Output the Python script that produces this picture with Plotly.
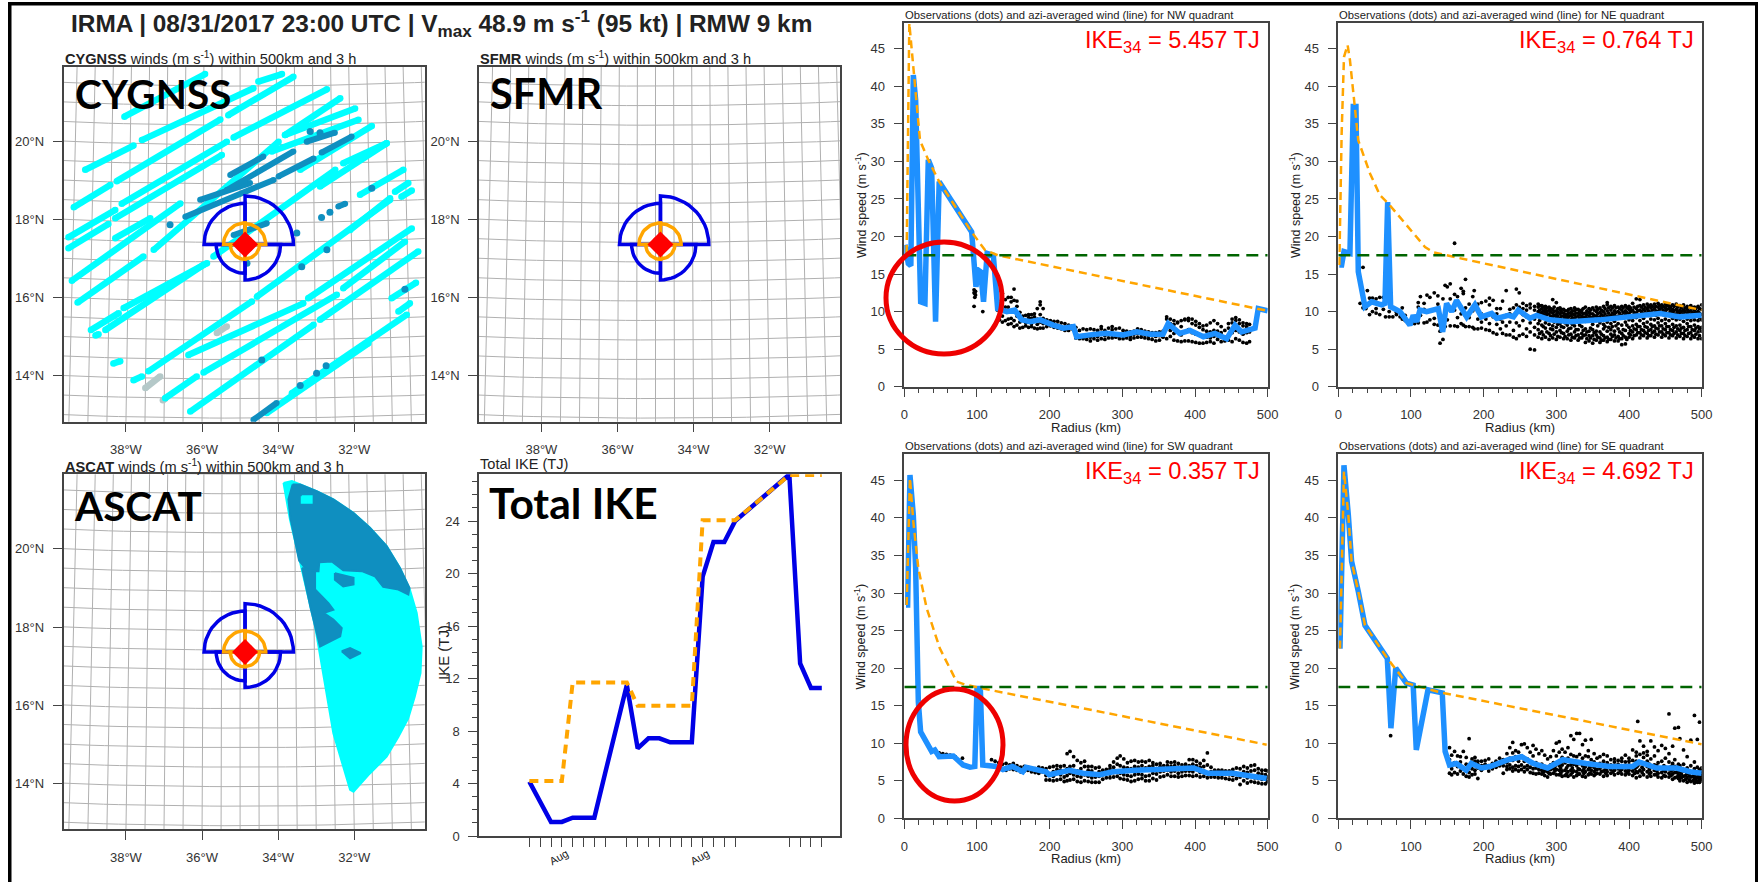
import math
import plotly.graph_objects as go

W, H = 1758, 882
FONT = "Liberation Sans"
TC = "#333333"

# ---------- total IKE ----------
IKE_TICKS = [0,1,2,3,4,5,6,7,9,10,11,12,13,14,15,16,17,18,19,24,25,26,27]
IKE_BLUE_T = [0,2,3,4,5,6,7,9,10,11,12,13,14,15,16,17,18,19,24,25,26,27]
IKE_BLUE_V = [4.14,1.07,1.07,1.4,1.4,1.4,4.8,11.5,6.68,7.44,7.44,7.14,7.14,7.14,19.76,22.4,22.4,24.0,27.55,13.15,11.28,11.28]
IKE_ORNG_T = [0,3,4,9,10,15,16,19,24,27]
IKE_ORNG_V = [4.2,4.2,11.7,11.7,9.93,9.93,24.05,24.05,27.5,27.5]

# ---------- quadrant radii (deg) NE, NW, SW, SE and storm centre ----------
CENTER = (-34.87, 17.36)
R34 = [1.24, 1.05, 0.74, 0.91]
R50 = [0.53, 0.55, 0.38, 0.37]

# ---------- CYGNSS tracks: lon0, lat0, lon1, lat1 ----------
CYG_CYAN = [
(-38.04,20.63,-35.92,21.72),(-34.52,21.53,-33.90,21.72),(-37.58,20.03,-34.65,21.36),(-35.31,20.67,-33.60,21.65),
(-35.17,20.10,-32.72,21.33),(-33.82,20.16,-32.37,21.10),(-39.07,19.27,-37.80,19.89),(-38.24,18.98,-35.52,20.56),
(-39.37,18.31,-38.41,18.88),(-38.11,18.40,-35.35,19.99),(-39.51,17.54,-38.28,18.24),(-38.28,18.03,-35.48,19.65),
(-39.51,17.26,-38.46,17.88),(-38.28,17.52,-37.36,18.03),(-39.42,16.43,-36.57,18.41),(-37.27,17.22,-33.99,19.99),
(-39.27,15.87,-37.54,17.05),(-38.92,15.17,-38.19,15.60),(-38.54,15.17,-35.96,16.84),(-38.06,15.73,-35.87,16.88),
(-35.70,17.05,-32.50,19.27),(-32.29,19.44,-31.15,19.95),(-34.17,19.74,-31.89,20.55),(-33.82,20.16,-31.98,20.84),
(-33.42,19.27,-31.54,20.39),(-32.90,18.84,-31.15,19.95),(-37.41,14.11,-34.69,15.90),(-36.36,14.53,-33.34,15.85),
(-34.56,16.02,-31.06,18.50),(-35.96,14.08,-32.46,16.07),(-33.21,15.98,-30.49,17.77),(-32.29,16.24,-30.67,17.43),
(-32.90,15.43,-30.32,17.18),(-38.33,14.31,-38.15,14.37),(-37.80,13.88,-37.58,13.98),(-36.97,13.42,-36.14,13.98),
(-36.31,13.08,-33.07,15.30),(-34.30,13.04,-31.63,14.83),(-33.64,13.55,-30.62,15.56),(-31.02,15.98,-30.38,16.38),
(-30.84,15.64,-30.54,15.85),(-31.85,18.63,-30.71,19.27),(-30.93,18.71,-30.58,18.93),(-30.76,18.58,-30.49,18.74),
(-32.11,17.73,-31.06,18.54),(-38.80,15.03,-38.72,15.06),
]
CYG_GRAY = [(-37.49,13.68,-37.10,13.98),(-35.61,15.09,-35.35,15.26),(-37.03,13.37,-36.98,13.40)]
CYG_DARK = [
(-36.44,18.07,-34.12,19.01),(-36.05,18.50,-34.74,18.93),(-35.35,18.75,-33.60,19.74),(-33.99,19.10,-33.07,19.56),
(-32.86,19.71,-32.07,20.12),(-33.25,19.99,-32.51,20.22),(-35.26,19.14,-34.39,19.61),(-35.17,17.60,-34.30,17.90),
(-32.42,18.33,-32.24,18.40),(-34.65,12.87,-34.04,13.30),
]
CYG_DOT_LON = [-33.16,-32.90,-36.84,-31.54,-32.86,-32.64,-33.51,-34.82,-33.38,-32.72,-30.67,-34.43,-33.42,-32.99,-32.74]
CYG_DOT_LAT = [20.25,20.22,17.86,18.80,18.05,18.18,17.65,16.88,16.79,17.22,16.21,14.40,13.75,14.06,14.25]

# ---------- ASCAT swath outlines ----------
ASC_LON = [-33.86,-33.64,-33.42,-32.99,-32.55,-32.02,-31.59,-31.15,-30.80,-30.54,-30.36,-30.23,-30.26,-30.41,-30.58,-30.84,-31.15,-31.59,-32.02,-32.11,-32.55,-32.90,-33.03,-33.42,-33.69]
ASC_LAT = [21.69,21.74,21.65,21.48,21.27,20.92,20.54,20.07,19.51,18.96,18.36,17.50,16.82,16.22,15.67,15.19,14.68,14.25,13.78,13.83,15.28,17.25,18.02,19.64,20.75]
ASC_D1_LON = [-33.62,-33.42,-32.99,-32.55,-32.02,-31.59,-31.15,-30.80,-30.55,-30.58,-30.84,-31.24,-31.46,-31.80,-32.29,-32.59,-32.92,-32.94,-33.16,-33.29,-33.45,-33.55,-33.68,-33.73]
ASC_D1_LAT = [21.65,21.65,21.48,21.27,20.92,20.54,20.07,19.51,19.00,18.83,18.96,19.03,19.30,19.43,19.45,19.68,19.66,19.43,19.43,19.51,19.70,20.20,20.80,21.27]
ASC_D2_LON = [-33.37,-33.03,-33.03,-32.68,-32.55,-32.81,-32.55,-32.33,-32.37,-32.64,-32.90,-33.03,-33.15]
ASC_D2_LAT = [19.51,19.43,18.96,18.61,18.44,18.36,18.19,17.97,17.76,17.63,17.50,18.02,18.50]
ASC_D3_LON = [-32.51,-32.02,-32.02,-32.29,-32.51]
ASC_D3_LAT = [19.38,19.26,19.09,19.04,19.21]
ASC_D4_LON = [-32.33,-32.11,-31.83,-32.11]
ASC_D4_LAT = [17.38,17.46,17.33,17.20]
ASC_C1_LON = [-33.38,-33.12,-33.12,-33.38]
ASC_C1_LAT = [21.35,21.35,21.18,21.18]

# ---------- quadrant profiles ----------
NW_R = [1,5.5,9,12.4,15.6,22.5,28.4,33,37.6,43,48,92.7,98.6,102,105,109,114,122.5,128.4,141,152,161.5,173,187,205,219,232.6,237,255.5,278.4,301,320,338,356,363,379,393,411.5,427.5,443.6,455,464,482.6,487,500]
NW_V = [18.9,16.4,16.1,41.5,38.2,11.3,11.1,30.2,29.1,8.65,27.3,20.6,13.3,15.5,15.3,11.3,17.75,17.5,10.4,10,10.2,8.9,8.65,8.9,8.2,7.8,8,6.65,6.9,7.1,6.9,7.3,7,7,8.4,7.1,7.5,6.65,7.1,6.4,8.2,7.3,7.8,10.4,10.1]
NW_OR = [3.2,4.6,6.9,12.4,21.6,33,48,92.7,111,128.4,500]
NW_OV = [17.8,33.7,48.4,42.6,32.8,30.2,27.3,20.6,18.2,17.5,10.1]
NE_R = [1.4,4.6,7.8,16,20.6,24.3,27.5,36.7,45.9,59.6,64.2,67.9,72,84.9,98.6,103,107.8,112.4,121.6,137.6,143.6,149,156,162.8,176.6,188,197,211,218,234,241,247.7,263.8,273,291,319,360,406,442.7,470,500]
NE_V = [16.2,16.2,18,17.75,37.3,37.3,15.3,10.65,11.3,10.9,11.1,24.6,10.65,10,8.2,9.5,8.65,10.2,10,10.4,7.3,11.1,10,11.5,9.3,10.9,9.3,9.75,9.1,9.5,9.3,10.2,9.1,9.5,8.9,8.65,8.9,9.3,9.75,9.3,9.5]
NE_OR = [1.4,4.6,7.8,12.8,16,23,27.5,43.6,57.3,68.8,94,119.3,130.7,162.8,500]
NE_OV = [16.2,33.7,43.9,45.5,43.5,37.3,32.8,28.4,25.5,24.4,21.5,18.6,17.9,17.2,10.2]
SW_R = [2.3,4.6,7.8,12.4,15.6,19.3,22.5,28.4,37.6,42,48,67.4,81,90.4,97,100,104.6,108,126.4,135.6,149,163,167.5,195,199.5,227,246,269,287,319,398,418,452,498.6]
SW_V = [28.4,28.4,45.7,40.4,33.3,15.5,11.5,10.4,8.9,9.1,8.2,8.3,7.1,6.8,6.9,17.3,17.3,7.1,6.9,6.5,6.9,6.2,6.8,6.2,5.8,6.4,6,5.8,6.2,6.4,6.7,6,6,5.3]
SW_OR = [3.2,7.8,12.4,19.3,30.7,49,72,83.5,101.8,498.6]
SW_OV = [28.4,45.3,39.5,33.3,28,22.6,18.2,17.8,17.4,9.8]
SE_R = [2.3,7.8,13.8,18.3,27.5,36.7,67.4,72.4,79,93.6,103,107.3,123.4,143,147,153,162.4,176.1,183,197,208.7,233.9,252.3,268.3,288,309,341,373,405,414,438,465.6,484,500]
SE_V = [22.6,47,40.4,34.2,30.2,25.7,21.3,12,20,18,17.75,9.1,17.1,16.7,8.9,7.1,7.3,6.4,7.3,6.7,6.9,7.8,8.2,7.3,6.7,7.8,7.3,6.9,6.9,7.5,6.7,6.7,6.2,6]
SE_OR = [2.3,7.8,13.8,18.3,27.5,36.7,67.4,94,123.9,143.6,500]
SE_OV = [22.6,46.2,40.4,34.2,30.2,25.7,21.3,18,17.2,16.7,9.85]

# ---------- observations: radius, speeds ----------
NW_DOTS = [(96,[10.7,12.9,12.5]),(97,[11.9,12.4]),(98,[12.7,12.2]),(108,[10.0]),(128,[10.2,11.5]),(131,[8.9,9.5,11]),(135,[8.6,9.4,11.7,12.4]),(139,[8.8,10.6,11.6]),(143,[8.3,9,10.6,11.9]),(147,[8.4,9.1,11.3,11.9]),(151,[8,8.8,11.5,13]),(155,[8.2,9.4,10.7,11.4]),(159,[7.8,8.6,9.9]),(163,[7.9,8.9,9.4]),(167,[8.1,8.5,9.5]),(171,[7.9,8.6,9.2,9.6]),(175,[8,8.4,9.1,9.6]),(179,[7.8,8.7,9.3,9.7]),(183,[7.7,8.3,9,10.4]),(187,[7.8,8.6,9.6,10.9,11.3]),(191,[7.8,8.4,9.1,10.4]),(196,[8,8.5,8.9]),(201,[8.1,8.4,8.8]),(206,[7.9,8.3,8.7]),(211,[7.8,8.2,8.7]),(216,[7.7,8,8.5]),(221,[7.5,7.9,8.4]),(226,[7.5,8,8.2]),(231,[7.7,8.1]),(236,[6.5,7.3,7.9]),(241,[6.4,6.7,7.5]),(246,[6.4,6.8,7.7]),(251,[6.3,6.7,7.6]),(256,[6.1,6.6,7.7]),(261,[6.4,6.8,7.6]),(266,[6.2,6.7,7.5]),(271,[6.4,7,7.7,8]),(276,[6.3,6.8,7.5]),(281,[6.5,7,7.8]),(286,[6.5,6.9,7.6,8]),(291,[6.6,7,7.7]),(296,[6.4,6.9,7.8]),(301,[6.4,6.8,7.5]),(306,[6.5,6.9,7.4]),(311,[6.3,6.7,7.3]),(316,[6.5,7,7.4]),(321,[6.6,7.1,7.7]),(326,[6.6,7,7.6]),(331,[6.5,6.9,7.4]),(336,[6.4,6.8,7.3]),(341,[6.3,6.8,7.2]),(346,[6.1,6.7,7.2]),(351,[6.2,6.8,7.3]),(356,[6.6,7,7.4]),(361,[6.4,7.8,9,9.3]),(366,[6.7,7.5,8.4,9]),(371,[6.2,7.1,8.3,8.8]),(376,[6.1,7.4,8.5,8.6]),(381,[6,6.9,8,8.8]),(386,[6.1,7.3,8.9,9]),(391,[6.1,7.6,8.8,9.1]),(396,[6,7.2,8.4,9]),(401,[5.9,7,8.2,8.7]),(406,[5.8,6.9,7.9,8.4]),(411,[5.8,6.7,7.6,8.1]),(416,[5.9,6.6,7.4,8.2]),(421,[6,6.5,7.3,8.5]),(426,[5.8,6.7,7.5,8.8]),(431,[6.3,6.8,7.4,8.4]),(436,[6,6.6,7.2,8]),(441,[6.1,6.5,7.5]),(446,[6.2,6.7,7.8,8.4]),(451,[6,7.2,8.5,9]),(456,[6.4,7.5,8.8,9.2]),(461,[6.2,7.3,8.4,8.9]),(466,[5.9,7,8.1,8.5]),(471,[5.8,7.2,8,8.4]),(475,[6,7.3,8.3])]
NE_DOTS = [(30,[11.1]),(34,[10.5,15.9]),(38,[10.4]),(40,[12.8,11]),(43,[9.6,11.8]),(47,[10,11.8]),(52,[9.8,11.7,10.4]),(57,[9.6,11.9]),(62,[10.3,11.9]),(65,[9.3]),(70,[9.3,10]),(75,[9.3]),(80,[9.6,9.9]),(85,[9.9,9.3]),(88,[10.5,9]),(92,[9.5,8.8]),(97,[8.4]),(105,[8.4,9.3]),(110,[8.5,10.6,11.2]),(113,[12,9.5]),(118,[8.5,11.1,10.3]),(122,[8.6,12.2,10]),(126,[8.9,11.9]),(132,[8.3,12.5,9.1]),(137,[8.2,12.1,11]),(140,[5.8,8.2,7.4]),(144,[6.3,8.1,11.7]),(147,[13.5,8]),(150,[13.3,8.9,10.6]),(154,[13.7,8.1,11.7]),(160,[19.1,8.1,10.2,12.3]),(164,[8,12,11.3,9.2]),(169,[8.4,13.1,9.7,10.6]),(172,[8.2,12.7,12.4]),(175,[14.3,8,10.5,9.4]),(180,[8,11,9.2]),(185,[7.9,12,10.1]),(187,[12.8,7.7,10.7]),(192,[7.7,9,11]),(197,[7.8,11.2,9.7,8.6]),(203,[7.6,11.4,9]),(208,[7.5,11.8,8.4,10.9]),(213,[7.2,11.5,9.3]),(218,[7,8.3,10.4,9.7]),(223,[7.7,9,10.4]),(226,[7.1,11.4,8.6]),(231,[6.9,12.8,8.1,9.5]),(236,[6.9,9.7,8.6,10.3]),(241,[6.6,7.5,9.3,10.5]),(245,[6.4,13,8.5,10.9,9.8]),(249,[6.8,12.5,8.1,10.6,10]),(254,[7,8.8,11.1,10.4,9.6]),(259,[6.7,7.7,9.3,10.8,10.2]),(264,[5,7.3,8.5,10.5,11]),(270,[4.9,6.9,7.9,9,10.7,10.2]),
(275,[6.6,7.6,8.4,9.5,10,10.6,11]),(280,[6.4,7.3,8.2,9.2,9.9,10.4,10.8]),(285,[6.6,7.8,8.5,9.4,9.9,10.3,10.7]),(290,[6.3,7.1,8.3,9.1,9.7,10.2,10.6]),(295,[6.5,7.6,8.1,9.3,9.8,10.3,11.6]),(300,[6.3,7.3,7.9,9.2,9.6,10.1,11.2]),(305,[6.6,7.5,8.4,9.1,9.7,10.2,10.5]),(310,[6.4,7.1,7.9,8.9,9.4,9.8,10.3]),(315,[6.4,7.4,8.2,9.2,9.6,10.1]),(320,[6.2,7,7.8,8.9,9.5,9.9,10.4]),(325,[6.5,7.3,8.1,9.1,9.6,10.1,10.5]),(330,[6.2,6.9,7.6,8.8,9.4,9.8,10.3]),(335,[6.5,7.1,8,9,9.4,9.9,10.2]),(340,[5.9,6.9,7.7,8.7,9.3,9.8,10.6]),(345,[6.1,6.8,7.4,8.9,9.4,9.9,10.4]),(350,[5.8,6.8,7.6,8.3,9.2,9.7,10.5]),(355,[6.2,6.9,7.4,8.8,9.4,10,10.6]),(360,[5.9,6.5,7.3,8.5,9.3,9.9,10.5]),(365,[6.2,6.8,7.7,8.3,9.4,10,10.7]),(370,[6,6.6,7.4,8.6,9.4,10.1,10.9,11.2]),(375,[6.3,7,7.6,8.4,9.5,10.2,10.7]),(380,[6.1,6.9,7.4,8.7,9.6,10.1,10.8]),(385,[6.1,6.7,7.7,8.4,9.4,10,10.6]),(390,[5.6,6.4,7.1,8.2,9.5,10.2,10.7]),(395,[5.7,6.6,7.5,8.6,9.6,10.1,10.8]),(400,[6.6,7.1,7.9,8.9,9.7,10.3,10.7]),(405,[6.4,7.3,8.1,8.8,9.5,10.2,11.1]),(410,[6.9,7.6,8.3,9.2,9.8,10.4,11.7]),(415,[6.5,7.2,8,8.8,9.6,10.2,10.8,11.6]),(420,[6.8,7.5,8.4,9.1,9.7,10.3,10.9]),(425,[6.5,7.1,7.9,8.6,9.8,10.4,11]),(430,[6.8,7.6,8.3,9,9.9,10.5,10.9]),(435,[6.6,7.4,8.1,8.9,9.8,10.4,11]),(440,[6.9,7.7,8.5,9.1,10,10.6,11.1]),(445,[6.6,7.3,8.1,8.8,9.9,10.5,10.9]),(450,[6.8,7.6,8.4,9,10,10.5,11]),(455,[6.5,7.2,8,8.8,9.8,10.4,10.8]),(460,[6.8,7.5,8.3,9.1,9.9,10.3,10.9]),(465,[6.5,7.3,8.1,8.9,9.7,10.3,11]),(470,[6.7,7.5,8.2,9,9.8,10.2,10.8]),(475,[6.4,7.1,7.9,8.7,9.7,10.2,10.9]),(480,[6.7,7.6,8.4,9,9.8,10.3,10.7]),(485,[6.4,7.2,8,8.8,9.6,10.1,10.8]),(490,[6.6,7.5,8.2,8.9,9.7,10.2,10.6]),(495,[6.4,7.3,8,8.8,9.5,10,10.7]),(500,[6.4,7.4,7.9,8.9,9.6,10.3,10.9])]
NE_EXTRA = [(r, s) for r, s in [(277,[7.1,8.8,9.7,10.2,10.8]),(282,[6.9,8,9.6,10.1,10.6]),(287,[7.3,8.9,9.6,10,10.5]),(292,[6.8,7.7,9.4,10,10.4]),(297,[7,8.6,9.5,10,10.6]),(302,[6.7,8.3,9.4,9.9,10.4]),(307,[7.2,8,9.4,9.9,10.3]),(312,[6.7,8.5,9.2,9.6,10.1]),(317,[6.9,7.7,9.3,9.8,10.3]),(322,[6.6,8.3,9.2,9.7,10.1]),(327,[6.8,7.6,9.3,9.8,10.3]),(332,[6.5,8.2,9.1,9.6,10.1]),(337,[6.8,7.5,9.2,9.7,10.4]),(342,[6.4,7.3,9.1,9.6,10.1]),(347,[6.5,7.8,9.2,9.7,10.2]),(352,[6.3,7.2,9,9.5,10.2]),(357,[6.6,8.1,9.2,9.7,10.3]),(362,[6.2,7,9,9.6,10.2]),(367,[6.5,8,9.2,9.7,10.4]),(372,[6.3,7.9,9.2,9.8,10.5]),(377,[6.7,8,9.3,9.8,10.5]),(382,[6.5,8.1,9.3,9.9,10.5]),(387,[6.4,7.3,9.2,9.8,10.4]),(392,[6.8,7.6,9.3,9.9,10.5]),(397,[6.3,8.2,9.3,9.9,10.5]),(402,[6.9,7.5,9.4,10,10.5]),(407,[6.8,7.7,9.3,9.9,10.6]),(412,[7.2,8,9.5,10.1,10.7]),(417,[6.9,7.6,9.4,10,10.6]),(422,[7.2,8,9.5,10.1,10.6]),(427,[6.8,7.5,9.5,10.1,10.7]),(432,[7.2,8,9.6,10.2,10.7]),(437,[7,7.8,9.5,10.1,10.7]),(442,[7.3,8.1,9.7,10.3,10.8]),(447,[7,7.7,9.6,10.2,10.7]),(452,[7.2,8,9.7,10.3,10.8]),(457,[6.9,7.6,9.5,10.1,10.6]),(462,[7.1,7.9,9.6,10.1,10.7]),(467,[6.9,7.7,9.5,10,10.6]),(472,[7.1,7.8,9.5,10,10.5]),(477,[6.8,7.5,9.4,10,10.5]),(482,[7.1,8,9.5,10,10.5]),(487,[6.8,7.6,9.3,9.9,10.5]),(492,[7,7.8,9.4,9.9,10.4]),(497,[6.8,7.7,9.2,9.8,10.4])]]
SW_DOTS = [(48,[8.7]),(53,[8.6]),(58,[8.5]),(63,[8.4]),(70,[8.2]),(80,[8]),(120,[7.8]),(125,[7.6,7]),(130,[7.4,6.8]),(135,[7.2,6.6]),(140,[7.3,6.4]),(145,[7.1,6.6]),(150,[7.3,6.5]),(155,[7,6.4]),(160,[6.8,6.2]),(165,[6.9,6.3]),(170,[6.8,6.4]),(175,[6.7,6.2]),(180,[6.6,6.1]),(185,[6.8,6]),(190,[6.7,6.2]),(195,[6.6,5.1,5.7]),(200,[6.8,5.1,5.9]),(205,[6.9,5,5.6,6.2]),(210,[7,5.1,6,6.5]),(215,[6.9,5.2,5.8,6.4]),(220,[7,4.9,5.5,6.3]),(224,[8.6,5,5.7,6.6]),(228,[8.9,5.1,6,6.9]),(233,[8.2,5.2,5.8,7]),(238,[7.7,4.9,5.6,6.3]),(243,[7.4,4.8,5.5,6.6]),(248,[7.6,5,5.8,6.9]),(253,[6.9,4.9,5.6,6.4]),(258,[6.9,4.8,5.4,6.3]),(263,[6.7,4.8,5.5]),(268,[6.8,4.8,5.6,6.2]),(273,[6.4,5.2,5.8]),(278,[6.5,5.4,6]),(283,[7,5.4,5.9,6.6]),(288,[7.5,5.5,6.1,6.8]),(293,[8,5.6,6.2,7.2]),(297,[8.3,5.3,6,7]),(302,[7.9,5.2,5.8,6.8]),(307,[7.4,5.1,5.7,6.7]),(312,[7.6,4.9,5.6,6.6]),(317,[7.7,5,5.8,6.9]),(322,[7.5,5.2,5.9,6.8]),(327,[7.6,5.3,5.8,7]),(332,[7.5,5,5.6,6.7]),(337,[7.7,5,5.7,6.9]),(342,[7.4,5.3,6,7]),(347,[7.2,5.1,5.9,6.6]),(352,[7.3,5.5,6.2,6.9]),(357,[7,5.6,6.3]),(362,[7.5,5.8,6.4,7]),(367,[7.4,5.6,6.2,6.9]),(372,[7.5,5.6,6.3,7]),(377,[7.3,5.5,6,6.8]),(382,[7.1,5.6,6.2,6.7]),(387,[7.2,5.7,6.3,6.9]),(392,[7.8,5.7,6.3,7]),(397,[7.8,5.6,6.2,7.2]),(402,[7.6,5.7,6.5,7]),(407,[7.3,5.5,6.1,6.8]),(412,[7.7,5.6,6.3,6.9]),(417,[7.1,8.7,5.4,6]),(422,[6.8,5.5,6.2]),(427,[6.4,5.5,6]),(432,[6.4,5.4,5.9]),(437,[6.4,5.4,5.8]),(442,[6.3,5.3,5.9]),(447,[6.3,5.2,5.8]),(452,[6.5,5.1,5.7]),(457,[6.7,5.3,5.9]),(462,[6.6,4.5,5.5]),(467,[6.9,5,5.7,6.2]),(472,[6.7,4.7,5.4,6.1]),(477,[7,4.9,5.6,6.3]),(482,[7.1,4.8,5.4,6.4]),(487,[6.6,4.7,5.3,6]),(492,[6.4,4.6,5.2,5.9]),(497,[6.4,4.6,5.2,5.8]),(500,[6.3,4.9,5.5])]
SE_DOTS = [(72,[11]),(153,[9.4,6,7.8]),(156,[8.4,5.8,6.6,7.2]),(160,[8.9,6.1,7.4]),(164,[8.3,5.9,6.9]),(168,[8.2,6.3,7.5]),(172,[8.9,5.9,6.6]),(176,[8.1,5.6,6.3,7.2]),(180,[10.6,5.5,6.1,7]),(184,[7.9,5.8,6.6,7.4]),(188,[8.1,5.9,6.4,7.6]),(192,[7.6,5.3,6.7,7.2]),(197,[7.6,6.4,7]),(202,[7.7,6.8,7.2]),(207,[7.9,6.3,7]),(212,[7.3,6.6,7.1]),(217,[7.6,6.8,7.3]),(222,[8,7,7.4]),(227,[7.8,6,7]),(232,[8.6,6.5,6.9,7.4]),(236,[9.4,6.6,7.1,8]),(240,[10.1,6.3,6.8,7.7,8.7]),(244,[9,6.5,7,8.2]),(248,[8.8,6.3,6.9,7.6]),(252,[9.8,6.5,7.1,8.3]),(256,[9.9,6.2,6.8,7.6]),(260,[9.4,6.5,7,7.9]),(264,[8.8,6.1,6.8,7.5]),(268,[9.7,6,6.6,7.2,8.3]),(272,[9.2,5.9,6.7,7.4]),(276,[8.6,6,6.5,7]),(280,[9,5.9,6.4,7.2]),(284,[8.4,5.7,6.3,6.9]),(288,[7.9,5.5,6.2,6.8]),(292,[8.2,5.9,6.5,7.1]),(296,[9,6,6.6,7.4]),(300,[10,5.8,6.5,7.2,8.3]),(304,[10.2,5.8,6.4,7,8.8]),(308,[9.2,5.6,6.3,7.1,8.1]),(312,[8.8,5.7,6.4,7.4]),(316,[9.4,5.6,6.2,7,8]),(320,[11,5.8,6.4,7.1,8.5]),(324,[10.5,5.5,6.3,7.2,8.3]),(328,[11.3,5.7,6.2,7,8.2]),(332,[11.3,5.9,6.5,7.3,8.5]),(336,[9.8,5.6,6.3,7,8]),(340,[10.4,5.5,6.2,6.9,8.3]),(344,[9,5.8,6.5,7.2,8.2]),(348,[10.5,5.9,6.4,7,7.8]),(352,[8.6,5.7,6.2,6.8,7.5]),(356,[8,6,6.5,7.1]),(360,[8.2,5.9,6.6,7.3]),(365,[8.5,5.6,6.3,6.9,7.6]),(370,[8.3,5.7,6.2,6.7,7.4]),(375,[7.8,6,6.5,7.1]),(380,[7.9,5.8,6.4,7,7.5]),(385,[7.7,6,6.6,7.2]),(390,[8,5.9,6.5,7,7.6]),(395,[8.4,5.8,6.3,6.9,7.5]),(400,[8,5.9,6.4,7.1,7.6]),(405,[9.1,5.7,6.3,6.9,7.7]),(410,[8.8,5.4,6.2,6.8,7.6,8.3]),(412,[12.9,6.1,7]),(415,[10.3,5.6,6.4,7.3,8.5]),(420,[9.6,5.8,6.5,7.2,8.1,8.7]),(425,[8.9,5.5,6.2,6.9,7.6,8.4]),(430,[10.3,5.6,6.1,6.8,7.9]),(435,[9.5,5.8,6.4,7.1,8.3]),(440,[9,5.5,6,6.6,7.4]),(445,[9.7,5.4,6.1,6.7,7.6]),(450,[9.3,5.6,6.2,6.8,8]),(455,[13.9,5.5,6,6.6,7.5,8.6]),(460,[9.6,5.2,5.9,6.5,7.3]),(463,[12,5.4,6.1,6.9,7.8]),(468,[12.1,5.3,5.8,6.4,7.2]),(470,[10.6,5,5.6,6.2,7]),(475,[9.1,5,5.6,6.3,7.2]),(480,[8.2,4.8,5.4,6,6.7]),(485,[10.4,4.9,5.5,6.2,7]),(490,[13.7,4.7,5.3,5.9,6.6,7.5]),(494,[10.5,4.8,5.4,6,6.8]),(497,[12.8,4.8,5.3,5.8,6.5]),(500,[5,5.5,6,6.7])]
SE_EXTRA = [(282,[6.1,6.7]),(290,[6,6.6]),(298,[6.3,6.9]),(306,[6,6.7]),(314,[5.9,6.7]),(322,[6.1,6.7]),(330,[5.9,6.6]),(338,[6,6.6]),(346,[6,6.8]),(354,[5.9,6.5]),(362,[6.2,6.9]),(368,[6,6.5]),(378,[6.2,6.8]),(388,[6.3,6.8]),(398,[6.1,6.7]),(408,[6,6.6,7.2]),(418,[6.1,6.8,7.4]),(428,[5.9,6.5,7.2]),(438,[5.8,6.3,7]),(448,[5.7,6.4,7]),(458,[5.7,6.3,6.9]),(466,[5.5,6.1,6.7]),(472,[5.4,5.9,6.6]),(478,[5.2,5.7,6.4]),(483,[5.1,5.7,6.3]),(488,[5,5.6,6.2]),(492,[5,5.5,6.1]),(496,[5,5.6,6.2]),(499,[5.2,5.7,6.3])]

TITLE_BITS = ["NW", "NE", "SW", "SE"]
IKE34 = ["5.457", "0.764", "0.357", "4.692"]
GALE = 17.5

# panel rectangles (left, right, top, bottom)
P = {"cyg": (63.5,424.7,66.7,421.7), "sfmr": (479,840,66.7,421.7), "asc": (63.5,424.7,474.3,829.3),
     "ike": (479,840,474.3,836), "nw": (904.3,1267.7,22.7,386.7), "ne": (1338.3,1701.7,22.7,386.7),
     "sw": (904.3,1267.7,454.3,818.3), "se": (1338.3,1701.7,454.3,818.3)}
AX = {k: i+1 for i, k in enumerate(P)}

fig = go.Figure()
layout = {}
LON_RANGE = [-39.64, -30.15]
LAT_RANGE = [12.82, 21.91]

def refs(k):
    return dict(xaxis="x%d" % AX[k], yaxis="y%d" % AX[k])

def axes(k, xa, ya):
    l, r, t, b = P[k]
    n = AX[k]
    base = dict(showgrid=False, zeroline=False, showline=True, mirror=True, linecolor="#444444", linewidth=1.5,
                ticks="outside", ticklen=9, tickcolor="#444444", tickwidth=1.2, ticklabelstandoff=6,
                tickfont=dict(family=FONT, size=13, color=TC))
    layout["xaxis%d" % n] = {**base, "domain": [l/W, r/W], "anchor": "y%d" % n, **xa}
    layout["yaxis%d" % n] = {**base, "domain": [1-b/H, 1-t/H], "anchor": "x%d" % n, **ya}

MAPX = dict(range=LON_RANGE, tickvals=[-38,-36,-34,-32], ticktext=["38°W","36°W","34°W","32°W"])
MAPY = dict(range=LAT_RANGE, tickvals=[14,16,18,20], ticktext=["14°N","16°N","18°N","20°N"])

def graticule():
    xs, ys = [], []
    lon0, k, c = -35.0, 0.0053, 0.0039
    def proj(lon, lat):
        d = lon - lon0
        return lon0 + d*(1 - k*(lat-12.82)), lat + c*(d*d - 22.6)
    for i in range(0, 21):
        lat = 12.0 + i*0.5
        for j in range(0, 31):
            x, y = proj(-41 + j*0.4, lat)
            xs.append(x); ys.append(y)
        xs.append(None); ys.append(None)
    for i in range(0, 23):
        lon = -40.5 + i*0.5
        for j in range(0, 13):
            x, y = proj(lon, 12 + j)
            xs.append(x); ys.append(y)
        xs.append(None); ys.append(None)
    return xs, ys

def segs(lst):
    xs, ys = [], []
    for a, b, c, d in lst:
        xs += [a, c, None]; ys += [b, d, None]
    return xs, ys

def line(k, x, y, color, width, dash=None, mode="lines", msize=0):
    tr = go.Scatter(x=x, y=y, mode=mode, line=dict(color=color, width=width, dash=dash),
                    hoverinfo="skip", showlegend=False, **refs(k))
    if msize:
        tr.marker = dict(color=color, size=msize)
    fig.add_trace(tr)

def arc_quads(radii):
    lon0, lat0 = CENTER
    xs, ys = [], []
    starts = [0, 90, 180, 270]
    for rad, s in zip(radii, starts):
        xs.append(lon0); ys.append(lat0)
        for d in range(0, 91, 6):
            a = math.radians(s + d)
            xs.append(lon0 + rad*1.025*math.cos(a)); ys.append(lat0 + rad*math.sin(a))
        xs.append(lon0); ys.append(lat0)
        xs.append(None); ys.append(None)
    return xs, ys

def storm(k):
    x, y = arc_quads(R34); line(k, x, y, "#0000e6", 3.5)
    x, y = arc_quads(R50); line(k, x, y, "#ffa500", 3.5)
    for sym, sz in (("circle", 18), ("diamond", 20)):
        fig.add_trace(go.Scatter(x=[CENTER[0]], y=[CENTER[1]], mode="markers", hoverinfo="skip", showlegend=False,
                                 marker=dict(symbol=sym, size=sz, color="#ff0000"), **refs(k)))

gx, gy = graticule()
for k in ("cyg", "sfmr", "asc"):
    axes(k, MAPX, MAPY)
    line(k, gx, gy, "#b0b0b0", 1)

# CYGNSS
x, y = segs(CYG_GRAY); line("cyg", x, y, "#b4c8c8", 6.5, mode="lines+markers", msize=6.5)
x, y = segs(CYG_CYAN); line("cyg", x, y, "#00ffff", 6.5, mode="lines+markers", msize=6.5)
x, y = segs(CYG_DARK); line("cyg", x, y, "#0f8fc0", 6, mode="lines+markers", msize=6)
fig.add_trace(go.Scatter(x=CYG_DOT_LON, y=CYG_DOT_LAT, mode="markers", hoverinfo="skip", showlegend=False,
                         marker=dict(color="#0f8fc0", size=7), **refs("cyg")))
storm("cyg")
storm("sfmr")

# ASCAT
def poly(lo, la, col):
    fig.add_trace(go.Scatter(x=lo+lo[:1], y=la+la[:1], mode="lines", fill="toself", fillcolor=col,
                             line=dict(color=col, width=2), hoverinfo="skip", showlegend=False, **refs("asc")))
poly(ASC_LON, ASC_LAT, "#00ffff")
poly(ASC_D1_LON, ASC_D1_LAT, "#0f8fc0")
poly(ASC_D2_LON, ASC_D2_LAT, "#0f8fc0")
poly(ASC_D3_LON, ASC_D3_LAT, "#0f8fc0")
poly(ASC_D4_LON, ASC_D4_LAT, "#0f8fc0")
poly(ASC_C1_LON, ASC_C1_LAT, "#00ffff")
storm("asc")

# Total IKE
axes("ike", dict(range=[-4.65, 28.68], tickvals=IKE_TICKS, showticklabels=False),
     dict(range=[0, 27.56], tickvals=[0,4,8,12,16,20,24],
          minor=dict(dtick=1, ticks="outside", ticklen=5, tickcolor="#444444")))
line("ike", IKE_BLUE_T, IKE_BLUE_V, "#0000e6", 4.5)
line("ike", IKE_ORNG_T, IKE_ORNG_V, "#ffa500", 4, dash="9px,6px")

# quadrant panels
PROFILES = [("nw", NW_DOTS, NW_R, NW_V, NW_OR, NW_OV), ("ne", NE_DOTS+NE_EXTRA, NE_R, NE_V, NE_OR, NE_OV),
            ("sw", SW_DOTS, SW_R, SW_V, SW_OR, SW_OV), ("se", SE_DOTS+SE_EXTRA, SE_R, SE_V, SE_OR, SE_OV)]
for k, dots, r, v, orr, orv in PROFILES:
    axes(k, dict(range=[0, 500], tick0=0, dtick=100,
                 minor=dict(dtick=20, ticks="outside", ticklen=5, tickcolor="#444444")),
         dict(range=[0, 48.47], tick0=0, dtick=5))
    dx, dy = [], []
    for rad, speeds in dots:
        for s in speeds:
            dx.append(rad); dy.append(s)
    fig.add_trace(go.Scatter(x=dx, y=dy, mode="markers", hoverinfo="skip", showlegend=False,
                             marker=dict(color="#000000", size=3.8), **refs(k)))
    line(k, r, v, "#1e90ff", 5.5)
    line(k, orr, orv, "#ffa500", 2.5, dash="8px,5px")
    line(k, [0, 500], [GALE, GALE], "#006400", 2.5, dash="12px,7px")

# text helpers
ann = []
def txt(s, x, y, size, anchor="left", color="#222222", family=FONT, angle=0):
    ann.append(dict(text=s, x=x/W, y=1-y/H, xref="paper", yref="paper", xanchor=anchor, yanchor="middle",
                    showarrow=False, borderpad=0, textangle=angle, font=dict(family=family, size=size, color=color)))

txt("<b>IRMA | 08/31/2017 23:00 UTC | V<sub>max</sub> 48.9 m s<sup>-1</sup> (95 kt) | RMW 9 km</b>", 70, 24, 24.4)
txt("<b>CYGNSS</b> winds (m s<sup>-1</sup>) within 500km and 3 h", 63.5, 58, 14.6)
txt("<b>SFMR</b> winds (m s<sup>-1</sup>) within 500km and 3 h", 479, 58, 14.6)
txt("<b>ASCAT</b> winds (m s<sup>-1</sup>) within 500km and 3 h", 63.5, 466, 14.6)
txt("Total IKE (TJ)", 479, 464, 14.6)
txt("<b>CYGNSS</b>", 74, 94, 40.5, color="#000000", family="Lato")
txt("<b>SFMR</b>", 489, 93, 41.5, color="#000000", family="Lato")
txt("<b>ASCAT</b>", 73, 505, 40.5, color="#000000", family="Lato")
txt("<b>Total IKE</b>", 488, 502, 42.5, color="#000000", family="Lato")
txt("IKE (TJ)", 443, 653, 15, anchor="center", angle=-90)
txt("Aug", 559, 857, 11, anchor="center", angle=-30)
txt("Aug", 700, 857, 11, anchor="center", angle=-30)
for k, q, val in zip(("nw","ne","sw","se"), TITLE_BITS, IKE34):
    l, r, t, b = P[k]
    txt("Observations (dots) and azi-averaged wind (line) for %s quadrant" % q, l, t-8, 11.25)
    txt("IKE<sub>34</sub> = %s TJ" % val, r-7, t+19, 23.6, anchor="right", color="#ff0000")
    txt("Radius (km)", (l+r)/2, b+40.5, 13, anchor="center")
    txt("Wind speed (m s<sup>-1</sup>)", l-44, (t+b)/2, 12.5, anchor="center", angle=-90)

# frame and red rings
def rect(x0, x1, y0, y1):
    return dict(type="rect", xref="paper", yref="paper", x0=x0/W, x1=x1/W, y0=1-y0/H, y1=1-y1/H,
                fillcolor="#000000", line=dict(width=0), layer="above")
def ring(x0, x1, y0, y1):
    return dict(type="circle", xref="paper", yref="paper", x0=x0/W, x1=x1/W, y0=1-y0/H, y1=1-y1/H,
                line=dict(color="#ee0000", width=5), layer="above")
shapes = [rect(8, 11.5, 2, 882), rect(8, 1758, 2, 5.5), rect(1755, 1758, 2, 882),
          ring(886, 1002, 242, 354), ring(906, 1003, 689, 801)]

fig.update_layout(width=W, height=H, margin=dict(l=0, r=0, t=0, b=0, autoexpand=False), autosize=False,
                  paper_bgcolor="#ffffff", plot_bgcolor="#ffffff", showlegend=False,
                  annotations=ann, shapes=shapes, **layout)
fig.write_html("out.html", config={"displayModeBar": False},
               post_script="document.body.style.margin='0';document.body.style.overflow='hidden';")
